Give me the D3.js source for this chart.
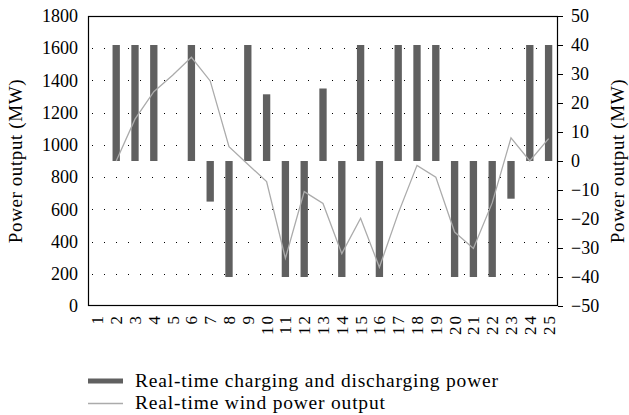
<!DOCTYPE html>
<html>
<head>
<meta charset="utf-8">
<script src="https://cdn.jsdelivr.net/npm/d3@7"></script>
<style>
  body { margin: 0; background: #fff; }
  svg { display: block; }
  svg text { font-family: "Liberation Serif", "Times New Roman", serif; }
</style>
</head>
<body>
<div id="chart"></div>
<script>
// ---- data ----
const hours = d3.range(1, 26).map(String);
// charging (+) / discharging (-) power, right axis (MW)
const storagePower = [0, 40, 40, 40, 0, 40, -14, -40, 40, 23, -40, -40, 25, -40, 40, -40, 40, 40, 40, -40, -40, -40, -13, 40, 40];
// wind power output, left axis (MW); hour 1 has no value
const windPower = [null, 900, 1160, 1330, 1432, 1544, 1397, 989, 880, 772, 296, 710, 636, 325, 545, 240, 575, 873, 800, 459, 357, 640, 1044, 900, 1039];
const leftTicks = [0, 200, 400, 600, 800, 1000, 1200, 1400, 1600, 1800];
const rightTicks = [-50, -40, -30, -20, -10, 0, 10, 20, 30, 40, 50];
const legendLabels = ["Real-time charging and discharging power", "Real-time wind power output"];

// ---- layout ----
const W = 629, H = 415;
const margin = { top: 16, right: 71, bottom: 109, left: 88 };
const plotW = W - margin.left - margin.right;
const plotH = H - margin.top - margin.bottom;

const barColor = '#606060';
const lineColor = '#ababab';

const svg = d3.select('#chart')
    .append('svg')
    .attr('width', W)
    .attr('height', H);

const g = svg.append('g')
    .attr('transform', `translate(${margin.left},${margin.top})`);

// ---- scales ----
const x = d3.scaleBand().domain(hours).range([0, plotW]);
const yL = d3.scaleLinear().domain([0, 1800]).range([plotH, 0]);
const yR = d3.scaleLinear().domain([-50, 50]).range([plotH, 0]);

// dotted grid lines from the left axis
g.append('g')
    .selectAll('line')
    .data(leftTicks.filter(d => d > 0 && d < 1800))
    .join('line')
    .attr('x1', 0)
    .attr('x2', plotW)
    .attr('y1', d => Math.round(yL(d)) + 0.5)
    .attr('y2', d => Math.round(yL(d)) + 0.5)
    .attr('stroke', '#000')
    .attr('stroke-width', 1)
    .attr('stroke-dasharray', '1,11')
    .attr('stroke-dashoffset', -4);

// bars: charging / discharging power
const barW = x.bandwidth() * 0.39;
g.append('g')
    .selectAll('rect')
    .data(storagePower.map((v, i) => ({ hour: hours[i], v })).filter(d => d.v !== 0))
    .join('rect')
    .attr('x', d => x(d.hour) + (x.bandwidth() - barW) / 2)
    .attr('y', d => yR(Math.max(0, d.v)))
    .attr('width', barW)
    .attr('height', d => Math.abs(yR(d.v) - yR(0)))
    .attr('fill', barColor);

// wind power line
const line = d3.line()
    .defined(d => d.v !== null)
    .x(d => x(d.hour) + x.bandwidth() / 2)
    .y(d => yL(d.v));

g.append('path')
    .datum(windPower.map((v, i) => ({ hour: hours[i], v })))
    .attr('fill', 'none')
    .attr('stroke', lineColor)
    .attr('stroke-width', 1.3)
    .attr('d', line);

// plot frame
g.append('rect')
    .attr('x', 0.5)
    .attr('y', 0.5)
    .attr('width', plotW - 1)
    .attr('height', plotH - 1)
    .attr('fill', 'none')
    .attr('stroke', '#000')
    .attr('stroke-width', 1.2);

// ---- axes ----
const leftAxis = g.append('g')
    .call(d3.axisLeft(yL).tickValues(leftTicks).tickSize(0).tickPadding(10).tickFormat(d3.format('d')));
leftAxis.attr('font-family', null);
leftAxis.select('.domain').remove();
leftAxis.selectAll('text').style('font-size', '18px').attr('fill', '#000');

const rightAxis = g.append('g')
    .attr('transform', `translate(${plotW},0)`)
    .call(d3.axisRight(yR).tickValues(rightTicks).tickSize(5).tickPadding(8)
        .tickFormat(d => d < 0 ? '\u2212' + Math.abs(d) : d));
rightAxis.attr('font-family', null);
rightAxis.select('.domain').remove();
rightAxis.selectAll('line').attr('stroke', '#000');
rightAxis.selectAll('text').style('font-size', '18px').attr('fill', '#000');

const bottomAxis = g.append('g')
    .attr('transform', `translate(0,${plotH})`)
    .call(d3.axisBottom(x).tickSize(0));
bottomAxis.attr('font-family', null);
bottomAxis.select('.domain').remove();
bottomAxis.selectAll('text')
    .attr('transform', 'rotate(-90)')
    .attr('text-anchor', 'end')
    .attr('x', -8)
    .attr('y', 0)
    .attr('dy', '0.35em')
    .style('font-size', '17px')
    .style('letter-spacing', '2px')
    .attr('fill', '#000');

// axis titles
svg.append('text')
    .attr('transform', `translate(22,${margin.top + plotH / 2}) rotate(-90)`)
    .attr('text-anchor', 'middle')
    .style('font-size', '19px')
    .style('letter-spacing', '0.6px')
    .text('Power output (MW)');

svg.append('text')
    .attr('transform', `translate(${W - 5},${margin.top + plotH / 2}) rotate(-90)`)
    .attr('text-anchor', 'middle')
    .style('font-size', '19px')
    .style('letter-spacing', '0.6px')
    .text('Power output (MW)');

// ---- legend ----
const legend = svg.append('g')
    .attr('transform', `translate(88,${H - 34})`);

legendLabels.forEach((label, i) => {
    const row = legend.append('g')
        .attr('transform', `translate(0,${i * 22})`);
    if (i === 0) {
        row.append('rect')
            .attr('x', 0)
            .attr('y', -2.5)
            .attr('width', 35)
            .attr('height', 5)
            .attr('fill', barColor);
    } else {
        row.append('line')
            .attr('x1', 0)
            .attr('x2', 35)
            .attr('y1', 0.5)
            .attr('y2', 0.5)
            .attr('stroke', lineColor)
            .attr('stroke-width', 1.3);
    }
    row.append('text')
        .attr('x', 47)
        .attr('y', 0)
        .attr('dy', '0.33em')
        .style('font-size', '19.5px')
        .style('letter-spacing', '0.8px')
        .text(label);
});
</script>
</body>
</html>
